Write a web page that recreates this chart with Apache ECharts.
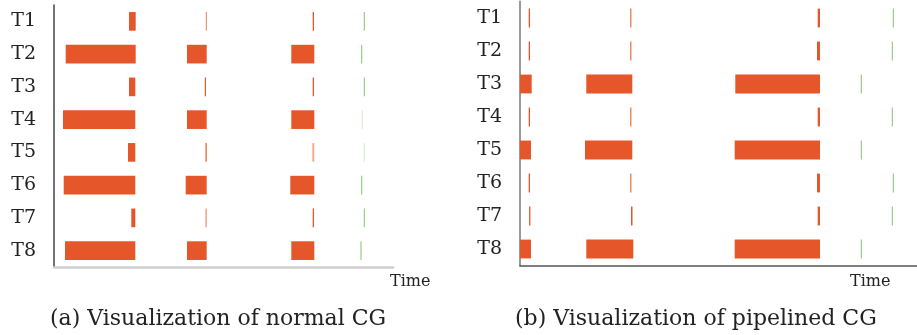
<!DOCTYPE html>
<html>
<head>
<meta charset="utf-8">
<script src="https://cdn.jsdelivr.net/npm/echarts@6/dist/echarts.min.js"></script>
<style>html,body{margin:0;padding:0;background:#fff}#c{width:917px;height:335px}</style>
</head>
<body>
<div id="c"></div>
<script>
// Task rows
const tasks = ['T1','T2','T3','T4','T5','T6','T7','T8'];
// Segment kinds (index into colour list in the style section)
const kinds = ['work','workThin','workFaint','sync','syncFaint'];
// Normal CG: [task index, start time, end time, kind index]
const normalSegments = [
  [0, 75, 81.7, 0], [0, 151.8, 152.9, 1], [0, 258.7, 260, 0], [0, 309.8, 310.8, 3],
  [1, 11.7, 81.7, 0], [1, 133, 152.7, 0], [1, 237.3, 260.3, 0], [1, 307.2, 308.2, 3],
  [2, 75, 81.3, 0], [2, 150.8, 152, 0], [2, 258.7, 260, 0], [2, 309.8, 310.8, 3],
  [3, 9, 81.3, 0], [3, 133, 152.7, 0], [3, 237.3, 260.3, 0], [3, 307.8, 308.8, 4],
  [4, 74, 81.3, 0], [4, 151.5, 152.7, 0], [4, 258.3, 260.3, 2], [4, 309.8, 310.8, 4],
  [5, 9.7, 81.3, 0], [5, 131.7, 152.7, 0], [5, 236.3, 260.3, 0], [5, 307.2, 308.2, 3],
  [6, 77.3, 81.3, 0], [6, 151.5, 152.7, 1], [6, 258.7, 260, 0], [6, 309.8, 310.8, 3],
  [7, 11, 81.3, 0], [7, 133, 152.7, 0], [7, 237.3, 260.3, 0], [7, 306.5, 307.5, 3]
];
// Pipelined CG: [task index, start time, end time, kind index]
const pipelinedSegments = [
  [0, 8.7, 10, 0], [0, 110, 111.5, 1], [0, 297.7, 300, 0], [0, 372.8, 373.8, 3],
  [1, 8.7, 10, 0], [1, 110, 111.5, 1], [1, 297, 300, 0], [1, 371.8, 372.8, 3],
  [2, 0, 11.7, 0], [2, 66.3, 112.3, 0], [2, 215.3, 300, 0], [2, 340.8, 341.8, 3],
  [3, 8.7, 10, 0], [3, 110, 111.5, 1], [3, 297.7, 300, 0], [3, 371.8, 372.8, 3],
  [4, 0, 11, 0], [4, 65, 112.3, 0], [4, 214.7, 300, 0], [4, 340.8, 341.8, 3],
  [5, 8.7, 10, 0], [5, 110, 111.5, 1], [5, 297, 300, 0], [5, 372.8, 373.8, 3],
  [6, 9.1, 10.4, 0], [6, 111, 112.5, 0], [6, 297.7, 300, 0], [6, 371.8, 372.8, 3],
  [7, 0, 11, 0], [7, 66.3, 113.3, 0], [7, 214.7, 300, 0], [7, 340.8, 341.8, 3]
];
const normalMaxTime = 339;
const pipelinedMaxTime = 397;
const captions = ['(a) Visualization of normal CG', '(b) Visualization of pipelined CG'];
const axisTitle = 'Time';

// ---- styles ----
const kindColors = ['#E5562A', '#EE8A62', '#F4AD94', '#85C26E', '#D8EBCF'];
const serif = '"DejaVu Serif", "Liberation Serif", serif';

function renderItem(params, api) {
  const row = api.value(0);
  const p0 = api.coord([api.value(1), row]);
  const p1 = api.coord([api.value(2), row]);
  const h = api.size([0, 1])[1] * 0.57;
  const w = Math.max(p1[0] - p0[0], 1);
  return {
    type: 'rect',
    shape: { x: p0[0], y: p0[1] - h / 2, width: w, height: h },
    style: { fill: kindColors[api.value(3)] }
  };
}

const chart = echarts.init(document.getElementById('c'), null, { renderer: 'canvas' });
const yAxisBase = {
  type: 'category', data: tasks, inverse: true,
  axisTick: { show: false },
  axisLabel: { fontFamily: serif, fontSize: 19, color: '#222', margin: 18 },
  splitLine: { show: false }
};
chart.setOption({
  animation: false,
  grid: [
    { left: 54, top: 5, width: 339, height: 262 },
    { left: 520, top: 1.5, width: 397, height: 264 }
  ],
  xAxis: [
    { type: 'value', gridIndex: 0, min: 0, max: normalMaxTime,
      axisLine: { show: true, lineStyle: { color: '#cfcfcf', width: 2.5 } },
      axisTick: { show: false }, axisLabel: { show: false }, splitLine: { show: false } },
    { type: 'value', gridIndex: 1, min: 0, max: pipelinedMaxTime,
      axisLine: { show: true, lineStyle: { color: '#555', width: 1.5 } },
      axisTick: { show: false }, axisLabel: { show: false }, splitLine: { show: false } }
  ],
  yAxis: [
    Object.assign({}, yAxisBase, { gridIndex: 0, axisLine: { show: true, lineStyle: { color: '#444', width: 1.5 } } }),
    Object.assign({}, yAxisBase, { gridIndex: 1, axisLine: { show: true, lineStyle: { color: '#999', width: 2 } } })
  ],
  series: [
    { type: 'custom', xAxisIndex: 0, yAxisIndex: 0, renderItem, data: normalSegments, encode: { x: [1, 2], y: 0 } },
    { type: 'custom', xAxisIndex: 1, yAxisIndex: 1, renderItem, data: pipelinedSegments, encode: { x: [1, 2], y: 0 } }
  ],
  graphic: [
    { type: 'text', left: 390, top: 274, style: { text: axisTitle, font: '16px ' + serif, fill: '#222' } },
    { type: 'text', left: 850, top: 274, style: { text: axisTitle, font: '16px ' + serif, fill: '#222' } },
    { type: 'text', left: 50, top: 308, style: { text: captions[0], font: '22px ' + serif, fill: '#222' } },
    { type: 'text', left: 515, top: 308, style: { text: captions[1], font: '22px ' + serif, fill: '#222' } }
  ]
});
</script>
</body>
</html>
